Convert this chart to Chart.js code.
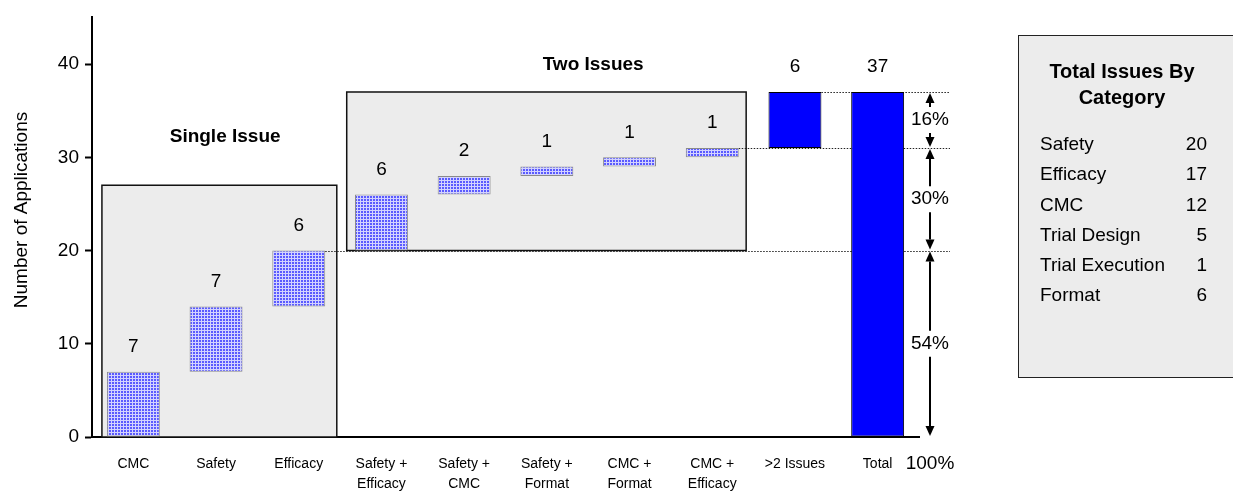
<!DOCTYPE html>
<html>
<head>
<meta charset="utf-8">
<script src="https://cdn.jsdelivr.net/npm/chart.js@4"></script>
<style>
  html, body { margin: 0; padding: 0; background: #fff; }
  #c { display: block; }
</style>
</head>
<body>
<canvas id="c" width="1233" height="491"></canvas>
<script>
// categories and values
const categories = [['CMC'], ['Safety'], ['Efficacy'], ['Safety +', 'Efficacy'], ['Safety +', 'CMC'],
  ['Safety +', 'Format'], ['CMC +', 'Format'], ['CMC +', 'Efficacy'], ['>2 Issues'], ['Total']];
const starts = [0, 7, 14, 20, 26, 28, 29, 30, 31, 0];
const values = [7, 7, 6, 6, 2, 1, 1, 1, 6, 37];
const yTicks = [0, 10, 20, 30, 40];

// grey group boxes (category index range, value range)
const groupNames = ['Single Issue', 'Two Issues'];
const groupFrom = [-0.38, 2.58];
const groupTo = [2.46, 7.41];
const groupLow = [0, 20];
const groupHigh = [27, 37];
const groupTitleAt = [[1.11, 32.2], [5.56, 39.9]];

// dotted guides start at the top of these bars
const guideBars = [2, 7, 8];
const shares = ['16%', '30%', '54%'];

const legendTitle = ['Total Issues By', 'Category'];
const legendNames = ['Safety', 'Efficacy', 'CMC', 'Trial Design', 'Trial Execution', 'Format'];
const legendValues = [20, 17, 12, 5, 1, 6];

const FONT = "'Liberation Sans', Arial, sans-serif";
const ends = starts.map((s, i) => s + values[i]);

function makePattern() {
  const t = document.createElement('canvas');
  t.width = 3; t.height = 3;
  const g = t.getContext('2d');
  g.fillStyle = '#d2d2ff';
  g.fillRect(0, 0, 3, 3);
  g.fillStyle = '#5a5aff';
  g.fillRect(1, 1, 2, 2);
  return g.createPattern(t, 'repeat');
}
const dots = makePattern();

function arrowHead(ctx, x, tipY, dir) {
  ctx.beginPath();
  ctx.moveTo(x, tipY);
  ctx.lineTo(x - 4.5, tipY + dir * 10);
  ctx.lineTo(x + 4.5, tipY + dir * 10);
  ctx.closePath();
  ctx.fill();
}

const overlay = {
  id: 'overlay',
  beforeDatasetsDraw(chart) {
    const { ctx, scales: { x, y }, chartArea } = chart;
    const meta = chart.getDatasetMeta(0);
    ctx.save();
    groupNames.forEach((n, i) => {
      const l = x.getPixelForValue(groupFrom[i]), r = x.getPixelForValue(groupTo[i]);
      const t = y.getPixelForValue(groupHigh[i]), b = y.getPixelForValue(groupLow[i]);
      ctx.fillStyle = '#ececec';
      ctx.fillRect(l, t, r - l, b - t);
      ctx.strokeStyle = '#111';
      ctx.lineWidth = 1.5;
      ctx.strokeRect(l, t, r - l, b - t);
    });
    ctx.setLineDash([1.5, 1.5]);
    ctx.lineWidth = 1;
    ctx.strokeStyle = '#222';
    guideBars.forEach(idx => {
      const bar = meta.data[idx];
      const yy = Math.round(y.getPixelForValue(ends[idx])) + 0.5;
      ctx.beginPath();
      ctx.moveTo(bar.x + bar.width / 2, yy);
      ctx.lineTo(chartArea.right + 31, yy);
      ctx.stroke();
    });
    ctx.restore();
  },
  afterDatasetsDraw(chart) {
    const { ctx, scales: { x, y }, chartArea } = chart;
    const meta = chart.getDatasetMeta(0);
    ctx.save();
    ctx.fillStyle = '#000';
    ctx.textAlign = 'center';
    ctx.textBaseline = 'middle';

    // value labels
    ctx.font = '19px ' + FONT;
    meta.data.forEach((bar, i) => {
      ctx.fillText(String(values[i]), bar.x, y.getPixelForValue(ends[i]) - 25);
    });

    // group titles
    ctx.font = 'bold 19px ' + FONT;
    groupNames.forEach((n, i) => {
      ctx.fillText(n, x.getPixelForValue(groupTitleAt[i][0]), y.getPixelForValue(groupTitleAt[i][1]));
    });

    // share arrows
    const ax = chartArea.right + 11;
    const levels = [ends[8], ends[7], ends[2], 0];
    ctx.font = '19px ' + FONT;
    ctx.strokeStyle = '#000';
    ctx.lineWidth = 2;
    shares.forEach((s, i) => {
      const ya = y.getPixelForValue(levels[i]) + 1;
      const yb = y.getPixelForValue(levels[i + 1]) - 1;
      const mid = (ya + yb) / 2;
      arrowHead(ctx, ax, ya, 1);
      arrowHead(ctx, ax, yb, -1);
      ctx.beginPath();
      if (mid - 13 > ya + 10) { ctx.moveTo(ax, ya + 10); ctx.lineTo(ax, mid - 13); }
      if (mid + 13 < yb - 10) { ctx.moveTo(ax, mid + 13); ctx.lineTo(ax, yb - 10); }
      ctx.stroke();
      ctx.fillText(s, ax, mid);
    });
    ctx.fillText('100%', ax, chartArea.bottom + 27);

    // y axis title
    ctx.save();
    ctx.translate(22, 210);
    ctx.rotate(-Math.PI / 2);
    ctx.font = '19px ' + FONT;
    ctx.fillText('Number of Applications', 0, 0);
    ctx.restore();

    // side table
    ctx.fillStyle = '#ececec';
    ctx.fillRect(1018, 35, 230, 342);
    ctx.strokeStyle = '#222';
    ctx.lineWidth = 1;
    ctx.strokeRect(1018.5, 35.5, 230, 342);
    ctx.fillStyle = '#000';
    ctx.font = 'bold 20px ' + FONT;
    legendTitle.forEach((t, i) => ctx.fillText(t, 1122, 72 + i * 26));
    ctx.font = '19px ' + FONT;
    legendNames.forEach((n, i) => {
      const yy = 145 + i * 30.2;
      ctx.textAlign = 'left';
      ctx.fillText(n, 1040, yy);
      ctx.textAlign = 'right';
      ctx.fillText(String(legendValues[i]), 1207, yy);
    });
    ctx.restore();
  }
};

new Chart(document.getElementById('c'), {
  type: 'bar',
  data: {
    labels: categories,
    datasets: [{
      data: starts.map((s, i) => [s, ends[i]]),
      backgroundColor: values.map((v, i) => i < 8 ? dots : '#0000ff'),
      borderColor: values.map((v, i) => i < 8 ? '#8a8a8a' : '#000'),
      borderWidth: 1,
      borderSkipped: false,
      categoryPercentage: 1,
      barPercentage: 0.64
    }]
  },
  options: {
    responsive: false,
    animation: false,
    devicePixelRatio: 1,
    layout: { padding: { left: 0, top: 15, right: 314, bottom: 0 } },
    plugins: { legend: { display: false }, tooltip: { enabled: false } },
    scales: {
      x: {
        grid: { display: false, drawTicks: false },
        border: { display: true, color: '#000', width: 2 },
        ticks: { color: '#000', font: { family: FONT, size: 14, lineHeight: 1.45 }, padding: 17, maxRotation: 0, autoSkip: false },
        afterFit(s) { s.height = 54; }
      },
      y: {
        min: 0,
        max: 45,
        afterBuildTicks(s) { s.ticks = yTicks.map(v => ({ value: v })); },
        grid: { drawOnChartArea: false, drawTicks: true, tickLength: 7, tickColor: '#000', tickWidth: 2 },
        border: { display: true, color: '#000', width: 2 },
        ticks: { color: '#000', font: { family: FONT, size: 19 }, padding: 6 },
        afterFit(s) { s.width = 92; }
      }
    }
  },
  plugins: [overlay]
});
</script>
</body>
</html>
